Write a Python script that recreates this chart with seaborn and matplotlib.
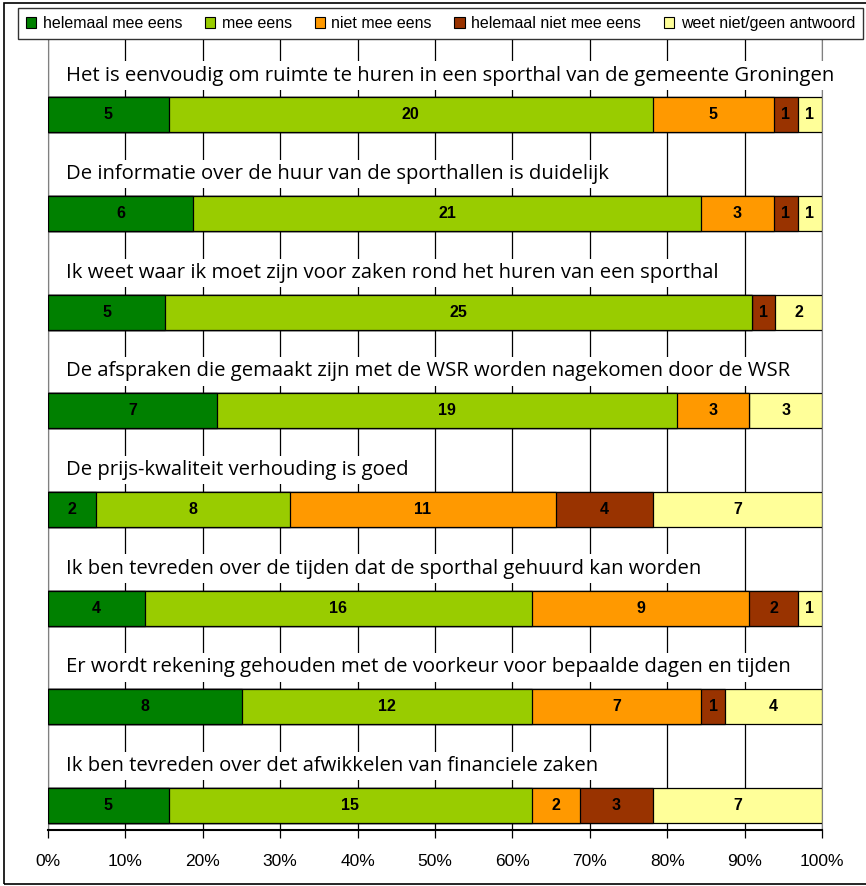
import numpy as np
import pandas as pd
import matplotlib
matplotlib.use("Agg")
import matplotlib.pyplot as plt
from matplotlib.patches import Patch, Rectangle
import seaborn as sns

# Answer categories and colours (legend order)
categories = ["helemaal mee eens", "mee eens", "niet mee eens",
              "helemaal niet mee eens", "weet niet/geen antwoord"]
colors = ["#008000", "#99CC00", "#FF9900", "#993300", "#FFFF99"]

questions = [
    "Het is eenvoudig om ruimte te huren in een sporthal van de gemeente Groningen",
    "De informatie over de huur van de sporthallen is duidelijk",
    "Ik weet waar ik moet zijn voor zaken rond het huren van een sporthal",
    "De afspraken die gemaakt zijn met de WSR worden nagekomen door de WSR",
    "De prijs-kwaliteit verhouding is goed",
    "Ik ben tevreden over de tijden dat de sporthal gehuurd kan worden",
    "Er wordt rekening gehouden met de voorkeur voor bepaalde dagen en tijden",
    "Ik ben tevreden over det afwikkelen van financiele zaken",
]

# counts per category, one list per category
helemaal_mee_eens = [5, 6, 5, 7, 2, 4, 8, 5]
mee_eens = [20, 21, 25, 19, 8, 16, 12, 15]
niet_mee_eens = [5, 3, 0, 3, 11, 9, 7, 2]
helemaal_niet_mee_eens = [1, 1, 1, 0, 4, 2, 1, 3]
weet_niet = [1, 1, 2, 3, 7, 1, 4, 7]

ticks = [0, 10, 20, 30, 40, 50, 60, 70, 80, 90, 100]
tick_labels = [f"{t}%" for t in ticks]

counts = np.array([helemaal_mee_eens, mee_eens, niet_mee_eens,
                   helemaal_niet_mee_eens, weet_niet]).T
pct = counts / counts.sum(axis=1, keepdims=True) * 100
cum = pct.cumsum(axis=1)

df = pd.DataFrame(cum, columns=categories)
df["vraag"] = [str(i) for i in range(len(questions))]

W, H = 866, 886
fig = plt.figure(figsize=(W / 100, H / 100), dpi=100)
ax = fig.add_axes([48 / W, 1 - 830 / H, 774 / W, 790 / H])

# stacked bars: overlay cumulative totals, largest first
for k in range(len(categories) - 1, -1, -1):
    sns.barplot(data=df, x=categories[k], y="vraag", orient="h",
                color=colors[k], width=0.355, edgecolor="black",
                linewidth=0.9, saturation=1, ax=ax, zorder=3)

# segment labels
for i in range(len(questions)):
    for k in range(len(categories)):
        if counts[i, k] > 0:
            ax.text(cum[i, k] - pct[i, k] / 2, i, str(counts[i, k]),
                    ha="center", va="center", fontsize=11.5,
                    fontweight="bold", family=["Liberation Sans", "DejaVu Sans"],
                    zorder=5)
    ax.text(2.3, i - 0.40, questions[i], ha="left", va="center",
            fontsize=14.6, family=["Open Sans", "DejaVu Sans"], zorder=4,
            bbox=dict(facecolor="white", edgecolor="none", pad=3))

ax.set_xlim(0, 100)
ax.set_ylim(7.25, -0.76)
ax.set_xticks(ticks)
ax.set_xticklabels(tick_labels, family=["Liberation Sans Narrow", "Liberation Sans"],
                   fontsize=12.5)
ax.set_yticks([])
ax.set_xlabel("")
ax.set_ylabel("")
ax.tick_params(axis="x", length=6, width=0.9, color="black", pad=11)
ax.grid(axis="x", color="black", linewidth=0.9, zorder=0)
ax.set_axisbelow(True)
for s in ["left", "right"]:
    ax.spines[s].set_color("#808080")
ax.spines["top"].set_visible(False)
ax.spines["bottom"].set_color("black")
ax.spines["bottom"].set_linewidth(1.5)

handles = [Patch(facecolor=c, edgecolor="black", linewidth=0.8) for c in colors]
leg = fig.legend(handles, categories, loc="upper left", ncol=5,
                 bbox_to_anchor=(18 / W, 1 - 8 / H), borderaxespad=0,
                 frameon=True, fancybox=False, handlelength=0.65,
                 handleheight=0.65, handletextpad=0.4, columnspacing=1.42,
                 borderpad=0.5,
                 prop={"family": ["Liberation Sans", "DejaVu Sans"], "size": 11.5})
leg.get_frame().set_edgecolor("black")
leg.get_frame().set_linewidth(1.0)

# outer chart border
fig.patches.append(Rectangle((4 / W, 2 / H), 1.2, 1 - 5 / H, transform=fig.transFigure,
                             fill=False, edgecolor="black", linewidth=1.2))

fig.savefig("out.png", dpi=100)
